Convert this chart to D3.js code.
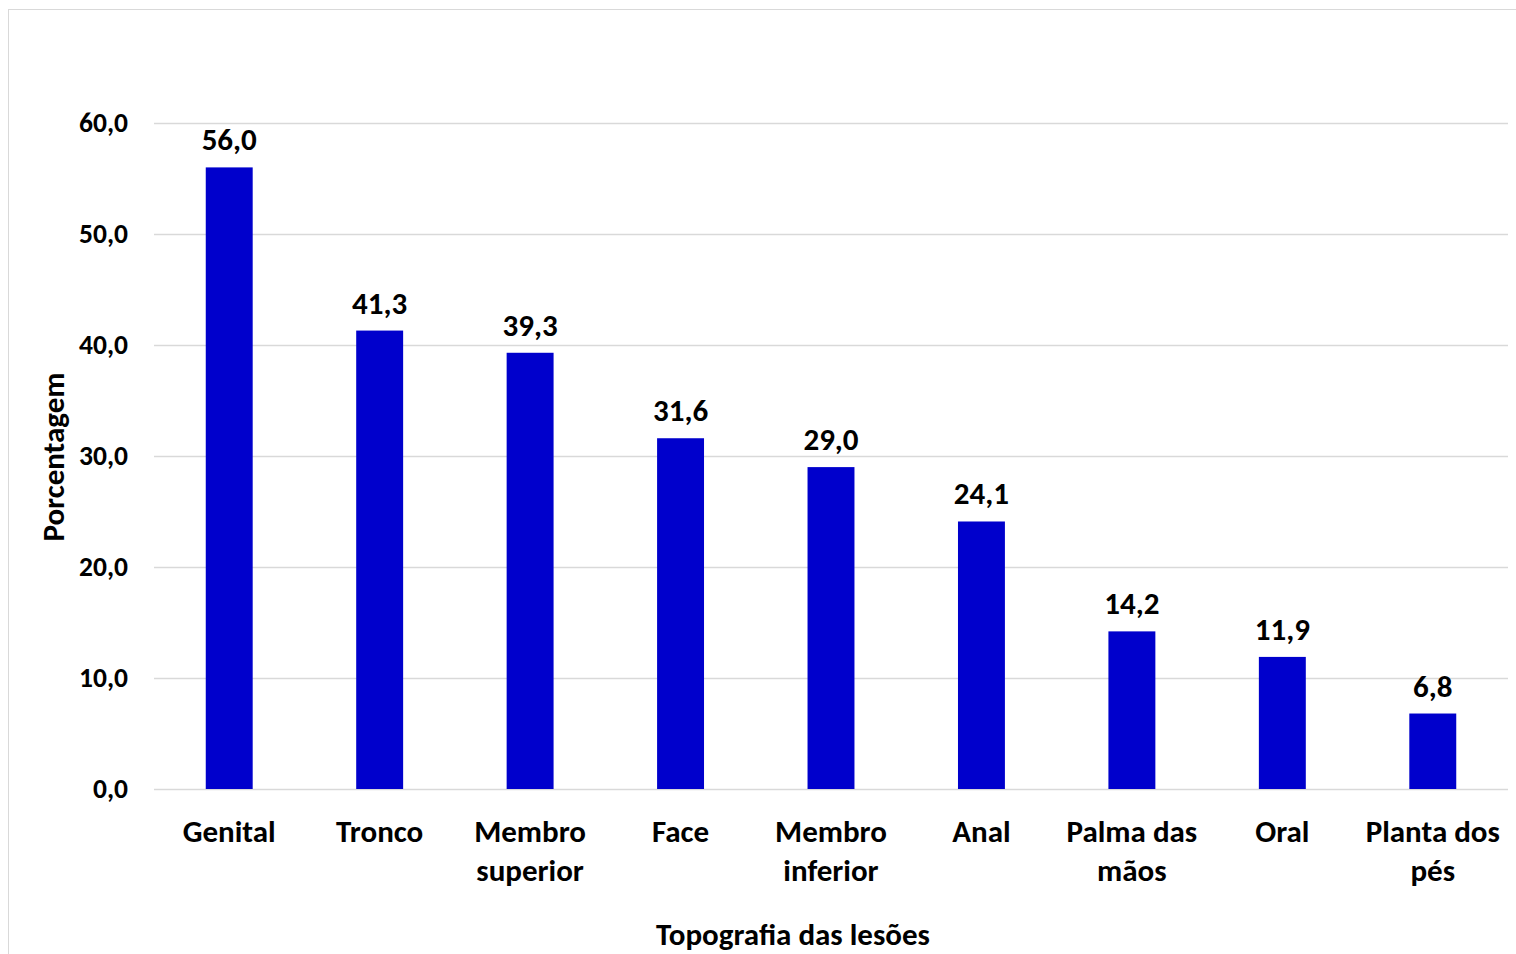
<!DOCTYPE html>
<html><head><meta charset="utf-8">
<script src="https://cdn.jsdelivr.net/npm/d3@7"></script>
<style>
html,body{margin:0;padding:0;background:#fff;}
svg{display:block;}
text{font-family:Carlito,Lato,"Liberation Sans",sans-serif;font-weight:bold;fill:#000;}
</style></head><body>
<svg id="chart" width="1516" height="954"></svg>
<script>
const categories = [["Genital"],["Tronco"],["Membro","superior"],["Face"],["Membro","inferior"],["Anal"],["Palma das","mãos"],["Oral"],["Planta dos","pés"]];
const values = [56.0,41.3,39.3,31.6,29.0,24.1,14.2,11.9,6.8];
const yTicks = [0,10,20,30,40,50,60];
const yTitle = "Porcentagem";
const xTitle = "Topografia das lesões";

const svg = d3.select("#chart");
svg.append("rect").attr("x",8.5).attr("y",9.5).attr("width",1530).attr("height",960)
  .attr("fill","#fff").attr("stroke","#d9d9d9").attr("stroke-width",1);

const pLeft=154, pRight=1508, pTop=123, pBottom=789;
const fmt = v => v.toFixed(1).replace(".", ",");
const x = d3.scaleBand().domain(d3.range(values.length)).range([pLeft,pRight]).paddingInner(0.688).paddingOuter(0.344);
const y = d3.scaleLinear().domain([0,60]).range([pBottom,pTop]);

const g = svg.append("g");
g.selectAll("line.grid").data(yTicks).join("line")
  .attr("x1",pLeft).attr("x2",pRight).attr("y1",d=>Math.round(y(d))+0.5).attr("y2",d=>Math.round(y(d))+0.5)
  .attr("stroke","#d9d9d9").attr("stroke-width",1.3);

const yAxis = d3.axisLeft(y).tickValues(yTicks).tickFormat(fmt).tickSize(0).tickPadding(0);
const ya = svg.append("g").attr("transform",`translate(128,0)`).call(yAxis);
ya.select(".domain").remove();
ya.selectAll("text").style("font-size","27.5px").attr("fill","#000").style("font-family","Carlito,Lato,'Liberation Sans',sans-serif");

g.selectAll("rect.bar").data(values).join("rect")
  .attr("x",(d,i)=>x(i)).attr("width",x.bandwidth())
  .attr("y",d=>y(d)).attr("height",d=>pBottom-y(d)).attr("fill","#0000cc");

g.selectAll("text.val").data(values).join("text")
  .attr("x",(d,i)=>x(i)+x.bandwidth()/2).attr("y",d=>y(d)-17)
  .attr("text-anchor","middle").style("font-size","31px").text(fmt);

const xl = g.selectAll("text.cat").data(categories).join("text")
  .attr("x",(d,i)=>x(i)+x.bandwidth()/2).attr("y",842).attr("text-anchor","middle").style("font-size","31px");
xl.selectAll("tspan").data(d=>d).join("tspan")
  .attr("x",function(){return this.parentNode.getAttribute("x");})
  .attr("dy",(d,i)=>i===0?0:39).text(d=>d);

svg.append("text").attr("transform","translate(64,457) rotate(-90)").attr("text-anchor","middle")
  .style("font-size","31px").text(yTitle);
svg.append("text").attr("x",793).attr("y",945).attr("text-anchor","middle")
  .style("font-size","31px").text(xTitle);
</script></body></html>
